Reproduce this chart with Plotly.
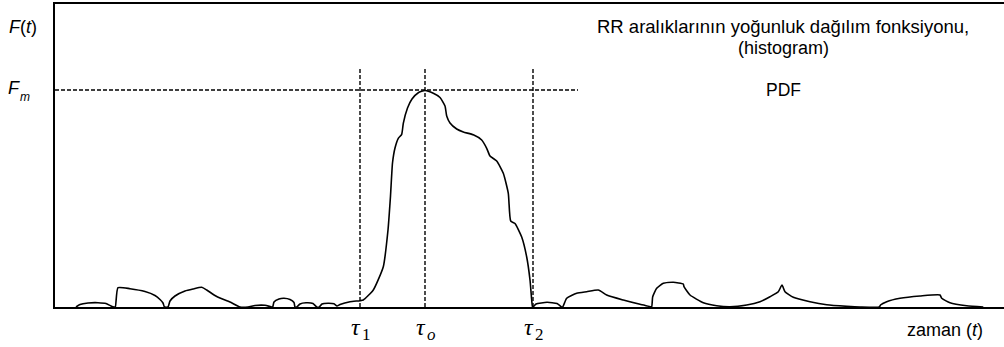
import plotly.graph_objects as go

# Density curve F(t) (arbitrary time units t, arbitrary F units)
t_vals = [21, 25, 33, 43, 51, 56, 59,
          60.3, 63, 75, 90, 100, 105, 108, 109.5,
          113, 115, 120, 130, 138, 146.7, 151.7, 161.7, 175, 185,
          193, 200, 210, 216.7,
          217.7, 219, 224, 229, 235, 239, 240,
          241.7, 245, 251, 258, 261.7,
          264.3, 267, 273, 279, 282,
          285, 295, 305, 308.3, 318.3, 328.3, 333, 335.5, 337.5, 340, 343.3, 346.7,
          348.3, 352.5, 357, 363.3, 370, 378.3, 385, 390, 391.7,
          395, 401.7, 408.3, 418.3, 426.7, 431.7,
          435, 441.7, 448.3, 453.3, 455.7,
          460, 466.7, 471.7, 475, 476.7, 477.5,
          478, 481, 492, 502, 506.7,
          507.7, 511.7, 521.7, 531.7, 543.3, 551.7, 568.3, 585, 595.7, 596.7,
          597.7, 601.7, 608.3, 618.3, 628.3, 629, 635, 648.3, 661.7, 675,
          691.7, 705, 715, 723.3, 727, 730, 738.3, 755, 771.7, 791.7, 805,
          824.3, 825.5, 831.7, 845, 865, 885, 886.7, 895, 911.7, 928.3]
F_vals = [0, 2.5, 4, 4.3, 3.5, 1, 0,
          0, 19.3, 18.3, 15.5, 11.5, 7.5, 4, 0,
          0, 6, 11, 16, 18, 19.7, 17, 10.5, 5, 0,
          0, 1.5, 1.7, 0,
          0, 5, 8, 8.7, 7.5, 4.5, 0,
          0, 3, 4.2, 3.5, 0,
          0, 3, 3.8, 3.2, 1,
          2.5, 5.3, 6.3, 7, 17, 40.3, 77, 111, 144, 159, 168.7, 172.7,
          183.7, 199, 208, 214.3, 216.5, 213.7, 209.5, 201, 191,
          184, 178, 175, 172.2, 167, 158.7,
          151, 146, 133.7, 113.7, 86,
          83.5, 70, 50, 27, 7, 0,
          0, 3, 4.7, 3.5, 0,
          0, 8.7, 13.7, 15.3, 17, 12, 7, 2.7, 0.3, 0,
          10.3, 18.7, 23.7, 24.7, 23, 20.3, 12, 4.3, 1.3, 0.3,
          2, 5.3, 10.3, 15.3, 22, 15.3, 9.7, 5.3, 2.3, 0.7, 0,
          0, 2, 5.3, 8.7, 11, 12, 8.7, 4.3, 1.3, 0]

F_m = 217
tau_vals = [305, 370, 478]
tau_subs = ["1", "<i>o</i>", "2"]
guide_top = 239
fm_line_end = 523

x_range = [0, 949]
y_range = [0, 303]

fig = go.Figure()

dash_style = dict(color="black", width=1.4, dash="4px,2px")

# horizontal guide at F_m
fig.add_trace(go.Scatter(x=[0, fm_line_end], y=[F_m, F_m], mode="lines", line=dash_style,
                         hoverinfo="skip", showlegend=False))
# vertical guides at the tau values
for tv in tau_vals:
    fig.add_trace(go.Scatter(x=[tv, tv], y=[0, guide_top], mode="lines", line=dash_style,
                             hoverinfo="skip", showlegend=False))

fig.add_trace(go.Scatter(x=t_vals, y=F_vals, mode="lines",
                         line=dict(color="black", width=1.6, shape="spline", smoothing=0.5),
                         showlegend=False))

sans = "Liberation Sans"
serif = "Liberation Serif"
blk = "black"

ann = []
# y-axis labels (x in paper coords, y in data coords)
ann.append(dict(xref="paper", yref="y", x=-0.0337, y=280, text="<i>F</i>(<i>t</i>)",
                font=dict(family=sans, size=18, color=blk)))
ann.append(dict(xref="paper", yref="y", x=-0.0432, y=219, text="<i>F</i>",
                font=dict(family=sans, size=18, color=blk)))
ann.append(dict(xref="paper", yref="y", x=-0.0316, y=210, text="<i>m</i>",
                font=dict(family=sans, size=12, color=blk)))
# legend-like text
ann.append(dict(xref="x", yref="y", x=728, y=281, text="RR aralıklarının yoğunluk dağılım fonksiyonu,",
                font=dict(family=sans, size=18.5, color=blk)))
ann.append(dict(xref="x", yref="y", x=728, y=259, text="(histogram)",
                font=dict(family=sans, size=18, color=blk)))
ann.append(dict(xref="x", yref="y", x=728, y=217, text="PDF",
                font=dict(family=sans, size=17.5, color=blk)))
# x-axis label
ann.append(dict(xref="x", yref="paper", x=890, y=-0.076, text="zaman (<i>t</i>)",
                font=dict(family=sans, size=18, color=blk)))
# tau labels
for tv, sub in zip(tau_vals, tau_subs):
    ann.append(dict(xref="x", yref="paper", x=tv - 4, y=-0.066, text="<i>τ</i>",
                    font=dict(family=serif, size=24, color=blk)))
    ann.append(dict(xref="x", yref="paper", x=tv + 6, y=-0.092, text=sub,
                    font=dict(family=serif, size=17, color=blk)))

for a in ann:
    a.update(showarrow=False, xanchor="center", yanchor="middle")

fig.update_layout(
    width=1004, height=347,
    margin=dict(l=55, r=0, t=4, b=40),
    paper_bgcolor="white", plot_bgcolor="white",
    annotations=ann,
    xaxis=dict(range=x_range, showline=True, linecolor="black", linewidth=2, mirror=True,
               showgrid=False, zeroline=False, showticklabels=False, ticks=""),
    yaxis=dict(range=y_range, showline=True, linecolor="black", linewidth=2,
               showgrid=False, zeroline=False, showticklabels=False, ticks=""),
)

fig.write_html("out.html")
